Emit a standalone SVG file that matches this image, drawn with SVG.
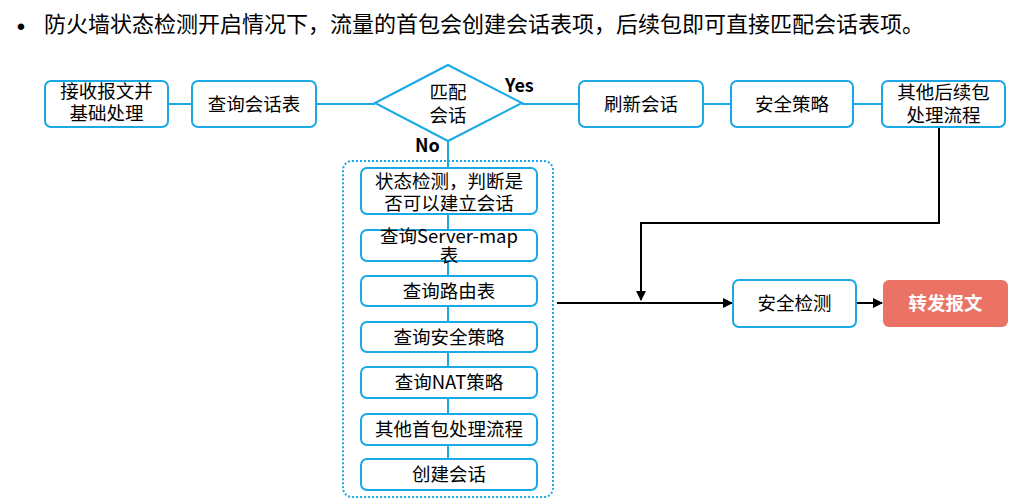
<svg xmlns="http://www.w3.org/2000/svg" width="1032" height="499" viewBox="0 0 1032 499">
<style>
text{font-family:"Noto Sans CJK SC","Microsoft YaHei",sans-serif;fill:#000}
.t{font-size:18.5px;text-anchor:middle}
.box{fill:#fff;stroke:#1AA8E6;stroke-width:2}
.bl{stroke:#1AA8E6;stroke-width:2;fill:none}
.k{stroke:#000;stroke-width:2;fill:none}
.lbl{font-size:18px;font-weight:bold}
</style>
<defs>
<marker id="ah" viewBox="0 0 10 10" refX="9" refY="5" markerWidth="5" markerHeight="5" orient="auto" markerUnits="strokeWidth">
<path d="M0,0 L10,5 L0,10 z" fill="#000"/>
</marker>
</defs>
<rect width="1032" height="499" fill="#fff"/>
<g id="title">
<text x="21" y="35" style="font-family:'Liberation Sans',Arial,sans-serif;font-size:24px;text-anchor:middle">•</text>
<text x="44" y="32" style="font-size:22px">防火墙状态检测开启情况下，流量的首包会创建会话表项，后续包即可直接匹配会话表项。</text>
</g>
<g id="container">
<rect x="343" y="161" width="210" height="336" rx="9" fill="none" stroke="#1AA8E6" stroke-width="2" stroke-dasharray="2 2"/>
</g>
<g id="connectors">
<line class="bl" x1="168" y1="104" x2="192" y2="104"/>
<line class="bl" x1="316" y1="104" x2="375" y2="104"/>
<line class="bl" x1="522" y1="104" x2="579" y2="104"/>
<line class="bl" x1="703" y1="104" x2="731" y2="104"/>
<line class="bl" x1="853" y1="104" x2="882" y2="104"/>
<line class="bl" x1="448" y1="141" x2="448" y2="168"/>
<line class="bl" x1="448" y1="214" x2="448" y2="230"/>
<line class="bl" x1="448" y1="261" x2="448" y2="276"/>
<line class="bl" x1="448" y1="306" x2="448" y2="322"/>
<line class="bl" x1="448" y1="352" x2="448" y2="367"/>
<line class="bl" x1="448" y1="398" x2="448" y2="414"/>
<line class="bl" x1="448" y1="445" x2="448" y2="459"/>
<polyline class="k" points="939,127 939,223 641,223 641,300" marker-end="url(#ah)"/>
<line class="k" x1="557" y1="303" x2="732" y2="303" marker-end="url(#ah)"/>
<line class="k" x1="856" y1="303" x2="882" y2="303" marker-end="url(#ah)"/>
<text class="lbl" x="505" y="92">Yes</text>
<text class="lbl" x="415" y="152">No</text>
</g>
<g id="n1"><rect class="box" x="45" y="81" width="123" height="46" rx="6"/><text class="t"><tspan x="106.5" y="98">接收报文并</tspan><tspan x="106.5" y="120">基础处理</tspan></text></g>
<g id="n2"><rect class="box" x="192" y="81" width="124" height="46" rx="6"/><text class="t" x="254" y="111">查询会话表</text></g>
<g id="n3"><polygon class="box" points="375,103 448,65 522,103 448,141"/><text class="t"><tspan x="448" y="99">匹配</tspan><tspan x="448" y="122">会话</tspan></text></g>
<g id="n4"><rect class="box" x="579" y="81" width="124" height="46" rx="6"/><text class="t" x="641" y="111">刷新会话</text></g>
<g id="n5"><rect class="box" x="731" y="81" width="122" height="46" rx="6"/><text class="t" x="792" y="111">安全策略</text></g>
<g id="n6"><rect class="box" x="882" y="81" width="123" height="46" rx="6"/><text class="t"><tspan x="943.5" y="99">其他后续包</tspan><tspan x="943.5" y="122">处理流程</tspan></text></g>
<g id="s1"><rect class="box" x="361" y="168" width="176" height="46" rx="6"/><text class="t"><tspan x="449" y="188">状态检测，判断是</tspan><tspan x="449" y="210">否可以建立会话</tspan></text></g>
<g id="s2"><rect class="box" x="361" y="230" width="176" height="31" rx="6"/><text class="t"><tspan x="449" y="243">查询Server-map</tspan><tspan x="449" y="262">表</tspan></text></g>
<g id="s3"><rect class="box" x="361" y="276" width="176" height="30" rx="6"/><text class="t" x="449" y="298">查询路由表</text></g>
<g id="s4"><rect class="box" x="361" y="322" width="176" height="30" rx="6"/><text class="t" x="449" y="344">查询安全策略</text></g>
<g id="s5"><rect class="box" x="361" y="367" width="176" height="31" rx="6"/><text class="t" x="449" y="389">查询NAT策略</text></g>
<g id="s6"><rect class="box" x="361" y="414" width="176" height="31" rx="6"/><text class="t" x="449" y="436">其他首包处理流程</text></g>
<g id="s7"><rect class="box" x="361" y="459" width="176" height="31" rx="6"/><text class="t" x="449" y="481">创建会话</text></g>
<g id="n7"><rect class="box" x="733" y="280" width="123" height="47" rx="6"/><text class="t" x="794.5" y="310">安全检测</text></g>
<g id="n8"><rect x="883" y="280" width="125" height="47" rx="6" fill="#EB7366"/><text class="t" x="945.5" y="310" style="fill:#fff;font-weight:bold">转发报文</text></g>
</svg>
